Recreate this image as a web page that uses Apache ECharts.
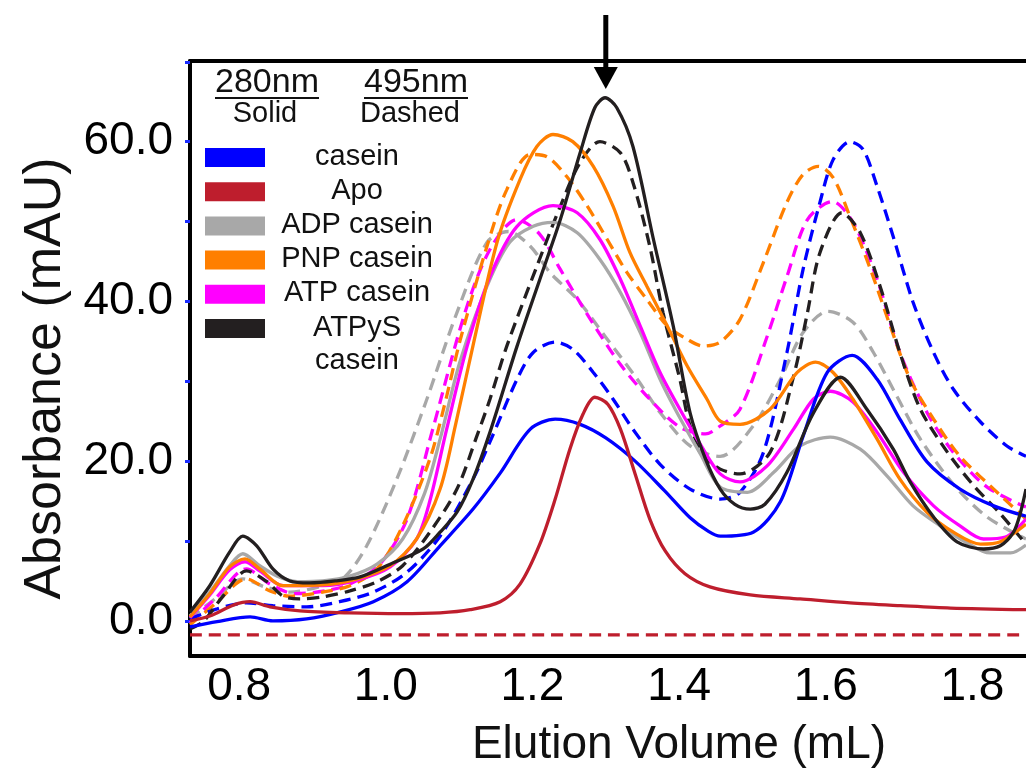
<!DOCTYPE html>
<html><head><meta charset="utf-8">
<script src="https://cdn.jsdelivr.net/npm/echarts@6/dist/echarts.min.js"></script>
<style>html,body{margin:0;padding:0;background:#fff}#c{width:1026px;height:773px}</style>
</head><body><div id="c"></div>
<script>
// ---- axis / tick values ----
const xRange = [0.733, 1.873];
const yRange = [-4.4, 70.1];
const xTickLabels = [0.8, 1.0, 1.2, 1.4, 1.6, 1.8];
const yTickLabels = [0, 20, 40, 60];
const yTickMarks = [0, 10, 20, 30, 40, 50, 60, 70];
const arrowX = 1.3;

// ---- legend ----
const sampleNames = ['casein', 'Apo', 'ADP casein', 'PNP casein', 'ATP casein', 'ATPyS casein'];
const legendLabels = ['casein', 'Apo', 'ADP casein', 'PNP casein', 'ATP casein', 'ATPyS\ncasein'];
const sampleColors = ['#0000ff', '#be1e2d', '#a8a8a8', '#ff7f00', '#ff00ff', '#231f20'];

// ---- 280 nm (solid) traces: [elution volume mL, absorbance mAU] ----
const casein280 = [[.733,-0.75],[.770,-0.1],[.815,0.5],[.846,0],[.892,0.25],[.937,1.1],[.983,2.4],[1.029,4.9],[1.074,9.4],[1.119,14],[1.156,18.5],[1.197,24],[1.231,25.25],[1.265,24.6],[1.300,22.9],[1.340,20],[1.380,16.3],[1.415,12.9],[1.440,11.2],[1.456,10.6],[1.501,11.1],[1.538,14.9],[1.569,23.1],[1.602,31.1],[1.636,33.25],[1.670,30.25],[1.701,25.25],[1.738,19.9],[1.783,16.5],[1.829,14.4],[1.873,13.1]];
const apo280 = [[.733,0],[.760,0.6],[.793,2],[.815,2.4],[.842,1.75],[.883,1.25],[.951,1],[1.019,0.9],[1.074,1],[1.115,1.4],[1.156,2.4],[1.183,4.6],[1.210,9.6],[1.231,15.25],[1.251,21.5],[1.269,25.9],[1.285,28],[1.303,27.1],[1.320,24],[1.340,18.4],[1.360,12.75],[1.381,8.75],[1.408,5.9],[1.442,4.25],[1.497,3.25],[1.565,2.75],[1.633,2.25],[1.702,1.9],[1.770,1.6],[1.873,1.4]];
const adp280 = [[.733,0.6],[.760,3.6],[.787,6.9],[.805,8.4],[.828,6.9],[.852,5.6],[.879,4.9],[.914,5],[.951,5.6],[.988,7.1],[1.023,10.25],[1.053,16],[1.074,22.75],[1.101,32.4],[1.138,41.9],[1.169,47.4],[1.201,49.4],[1.228,49.9],[1.261,48.6],[1.292,45.25],[1.320,41.1],[1.347,36.1],[1.374,30.25],[1.397,26.1],[1.429,20.9],[1.456,16.75],[1.493,16.1],[1.529,18.6],[1.565,21.9],[1.606,23],[1.647,21.5],[1.684,18.1],[1.719,14.4],[1.756,11.9],[1.790,9.9],[1.824,8.5],[1.852,8.5],[1.873,9.5]];
const pnp280 = [[.733,0.5],[.760,3.4],[.787,6.75],[.808,7.75],[.828,6.5],[.860,4.4],[.914,4.5],[.961,5.25],[1.006,6.9],[1.042,10.25],[1.074,16.5],[1.095,24.5],[1.119,34.5],[1.152,47.5],[1.183,55.25],[1.206,59.4],[1.228,60.9],[1.255,60],[1.283,56.9],[1.310,51.9],[1.333,46.1],[1.356,41.9],[1.384,36.9],[1.411,31.9],[1.438,27.75],[1.456,25],[1.483,24.6],[1.524,26.5],[1.561,31.1],[1.586,32.4],[1.610,31.1],[1.637,27.75],[1.670,22.75],[1.701,17.75],[1.738,13.6],[1.774,11.1],[1.811,9.6],[1.838,9.9],[1.873,12.1]];
const atp280 = [[.733,0.4],[.760,3.25],[.787,6.4],[.808,7.4],[.828,6.25],[.860,4.4],[.914,4.4],[.961,5.1],[1.006,6.75],[1.042,10.25],[1.060,15],[1.083,24],[1.111,34.4],[1.142,43.1],[1.179,49.4],[1.228,52],[1.261,51.1],[1.292,47.75],[1.320,42.75],[1.347,36.9],[1.374,31.1],[1.401,26.5],[1.429,22.1],[1.456,18.4],[1.483,17.4],[1.520,19.4],[1.556,24],[1.583,27.75],[1.606,28.75],[1.637,27.4],[1.670,23.6],[1.706,18.6],[1.747,14.4],[1.783,11.9],[1.815,10.25],[1.845,10.5],[1.873,12.75]];
const atpys280 = [[.733,1.1],[.760,4.4],[.787,8.6],[.805,10.6],[.824,9.4],[.846,6.5],[.869,5],[.896,4.75],[.931,5],[.965,5.5],[1.006,7.1],[1.051,9],[1.074,11.1],[1.097,13.6],[1.119,17.75],[1.142,23.6],[1.179,34.4],[1.210,42.75],[1.238,50.25],[1.265,58.6],[1.285,64.25],[1.299,65.5],[1.315,64.25],[1.337,59.4],[1.365,47.75],[1.392,36.9],[1.415,26],[1.436,20.25],[1.456,16.5],[1.476,14.6],[1.497,14],[1.517,14.6],[1.547,18.6],[1.583,26],[1.620,30.5],[1.656,26.5],[1.692,21.5],[1.715,17.4],[1.747,13],[1.779,9.9],[1.815,9],[1.838,9.4],[1.856,11.1],[1.865,13.4],[1.873,16.5]];

// ---- 495 nm (dashed) traces ----
const casein495 = [[.733,0.25],[.770,1.5],[.810,2.25],[.846,1.9],[.892,1.75],[.937,2.4],[.983,3.6],[1.029,6.1],[1.074,10.6],[1.119,17.75],[1.142,22.4],[1.179,30.25],[1.201,33.6],[1.231,34.9],[1.255,34],[1.283,31.1],[1.310,27.75],[1.337,24],[1.374,19.6],[1.415,16.5],[1.456,15.25],[1.483,16.1],[1.515,21.1],[1.547,33.6],[1.569,44],[1.592,52.4],[1.610,57.75],[1.633,60],[1.651,59],[1.670,54.4],[1.692,48.1],[1.719,39.9],[1.747,33.6],[1.774,29],[1.811,24.9],[1.847,21.9],[1.873,20.6]];
const apo495 = [[.733,-1.75],[1.0,-1.75],[1.3,-1.75],[1.6,-1.75],[1.873,-1.75]];
const adp495 = [[.733,0.3],[.767,2.75],[.805,5.25],[.835,4.25],[.869,3.6],[.914,4.4],[.944,5.5],[.974,9.4],[1.015,17.75],[1.055,27.5],[1.097,38.6],[1.138,47.4],[1.167,48.75],[1.197,46.9],[1.224,43.6],[1.261,40.25],[1.302,35.25],[1.343,30.25],[1.374,26.1],[1.415,21.9],[1.456,20.6],[1.501,24.4],[1.538,30.25],[1.569,36.1],[1.603,38.75],[1.637,37.4],[1.665,33.6],[1.697,28.1],[1.729,22.75],[1.774,17.1],[1.820,13],[1.873,10.25]];
const pnp495 = [[.733,-0.5],[.767,2.1],[.810,5.25],[.842,3.75],[.869,3.1],[.914,3.6],[.951,4.4],[.988,6.5],[1.023,11.9],[1.060,20.25],[1.080,27],[1.101,35],[1.138,46.9],[1.165,54],[1.197,58.4],[1.220,58.1],[1.247,55.6],[1.275,51.9],[1.302,47.75],[1.329,43.6],[1.356,40.25],[1.384,36.9],[1.411,35.25],[1.433,34.4],[1.456,34.9],[1.483,37.75],[1.515,44.9],[1.547,52.4],[1.569,55.9],[1.590,56.9],[1.610,55.5],[1.633,50.6],[1.661,44],[1.688,36.9],[1.715,30.25],[1.747,25.25],[1.783,20.6],[1.829,16.5],[1.873,12.75]];
const atp495 = [[.733,-0.25],[.767,2.75],[.810,6.5],[.842,4.6],[.876,3.4],[.917,3.75],[.951,4.6],[.992,7.1],[1.029,12.75],[1.064,24],[1.108,38.6],[1.142,46.5],[1.179,50.25],[1.210,48.4],[1.238,44],[1.279,37.75],[1.320,32.1],[1.360,27.75],[1.401,24.25],[1.436,23.4],[1.456,24.4],[1.483,26.5],[1.520,35.6],[1.547,43.1],[1.575,50.25],[1.609,52.5],[1.637,49.9],[1.670,42.75],[1.701,33.6],[1.738,26.1],[1.774,21.1],[1.820,16.75],[1.873,14.25]];
const atpys495 = [[.733,-1],[.751,-0.1],[.778,3.1],[.810,6.25],[.838,4.9],[.860,3.1],[.883,2.75],[.914,3],[.951,3.75],[.988,4.9],[1.023,6.9],[1.060,11.1],[1.097,16.5],[1.124,23.1],[1.142,27.75],[1.165,34.4],[1.206,44.4],[1.238,51.9],[1.265,57.4],[1.292,60],[1.320,58.6],[1.337,54.9],[1.360,46.9],[1.378,38.6],[1.401,30.25],[1.415,24.4],[1.436,20.5],[1.456,19],[1.483,18.4],[1.524,21.1],[1.556,30.6],[1.575,38.6],[1.592,46.1],[1.622,51.1],[1.647,48.6],[1.674,41.9],[1.701,33.6],[1.729,26.5],[1.766,21.1],[1.802,16.9],[1.838,13.4],[1.873,9.6]];

const solidData = [casein280, apo280, adp280, pnp280, atp280, atpys280];
const dashedData = [casein495, apo495, adp495, pnp495, atp495, atpys495];

const FONT = '"Liberation Sans", Arial, Helvetica, sans-serif';
const chart = echarts.init(document.getElementById('c'), null, {renderer: 'canvas'});

const drawOrder = [2, 4, 3, 0, 1, 5];
const series = [];
drawOrder.forEach(i => {
  series.push({
    name: sampleNames[i] + ' 495nm', type: 'line', data: dashedData[i],
    showSymbol: false, smooth: 0.3, clip: true,
    lineStyle: {color: sampleColors[i], width: 3.3, type: [12, 7]}, z: 2
  });
});
drawOrder.forEach(i => {
  series.push({
    name: sampleNames[i] + ' 280nm', type: 'line', data: solidData[i],
    showSymbol: false, smooth: 0.3, clip: true,
    lineStyle: {color: sampleColors[i], width: 3.3, type: 'solid'}, z: 3
  });
});

chart.setOption({
  animation: false,
  backgroundColor: '#ffffff',
  grid: {left: 190, right: 0, top: 61, bottom: 116, containLabel: false},
  xAxis: [{
    type: 'value', min: xRange[0], max: xRange[1], position: 'bottom',
    name: 'Elution Volume (mL)', nameLocation: 'middle', nameGap: 66,
    nameTextStyle: {fontFamily: FONT, fontSize: 46, color: '#111', padding: [0, 0, 0, 142]},
    axisLine: {show: true, onZero: false, lineStyle: {color: '#000', width: 4}},
    axisTick: {show: false},
    splitLine: {show: false},
    axisLabel: {customValues: xTickLabels, formatter: v => v.toFixed(1), fontFamily: FONT, fontSize: 46, color: '#000', margin: 8}
  }, {
    type: 'value', min: xRange[0], max: xRange[1], position: 'top',
    axisLine: {show: true, onZero: false, lineStyle: {color: '#000', width: 4}},
    axisTick: {show: false}, axisLabel: {show: false}, splitLine: {show: false}
  }],
  yAxis: {
    type: 'value', min: yRange[0], max: yRange[1],
    name: 'Absorbance (mAU)', nameLocation: 'middle', nameGap: 118,
    nameTextStyle: {fontFamily: FONT, fontSize: 52, color: '#111', padding: [0, 40, 0, 0]},
    axisLine: {show: true, onZero: false, lineStyle: {color: '#000', width: 4}},
    axisTick: {show: true, customValues: yTickMarks, length: 5, lineStyle: {color: '#1a2cff', width: 3}},
    splitLine: {show: false},
    axisLabel: {customValues: yTickLabels, formatter: v => v.toFixed(1), fontFamily: FONT, fontSize: 46, color: '#000', margin: 17}
  },
  series: series
});

// ---- legend & arrow as graphics ----
const g = [];
function header(txt, sub, cx, subCx) {
  g.push({type: 'text', x: cx, y: 83, style: {text: txt, font: '34px ' + FONT, fill: '#111', align: 'center', verticalAlign: 'middle'}});
  g.push({type: 'line', shape: {x1: cx - 52, y1: 98, x2: cx + 52, y2: 98}, style: {stroke: '#111', lineWidth: 2}});
  g.push({type: 'text', x: subCx, y: 114, style: {text: sub, font: '29px ' + FONT, fill: '#111', align: 'center', verticalAlign: 'middle'}});
}
header('280nm', 'Solid', 267, 265);
header('495nm', 'Dashed', 416, 410);
legendLabels.forEach((lab, i) => {
  const top = 148 + i * 34.2;
  const mid = top + 9.5;
  const lines = lab.split('\n').length;
  g.push({type: 'rect', shape: {x: 205, y: top, width: 60, height: 19}, style: {fill: sampleColors[i]}});
  g.push({type: 'text', x: 357, y: mid - 1 + (lines - 1) * 16.5, style: {text: lab, font: '29px ' + FONT, fill: '#111', align: 'center', verticalAlign: 'middle', lineHeight: 33}});
});
const ax = chart.convertToPixel({xAxisIndex: 0}, arrowX);
g.push({type: 'line', shape: {x1: ax, y1: 15, x2: ax, y2: 72}, style: {stroke: '#000', lineWidth: 5}, z: 100});
g.push({type: 'polygon', shape: {points: [[ax - 12, 67], [ax + 12, 67], [ax, 89]]}, style: {fill: '#000'}, z: 100});
chart.setOption({graphic: g});
</script></body></html>
